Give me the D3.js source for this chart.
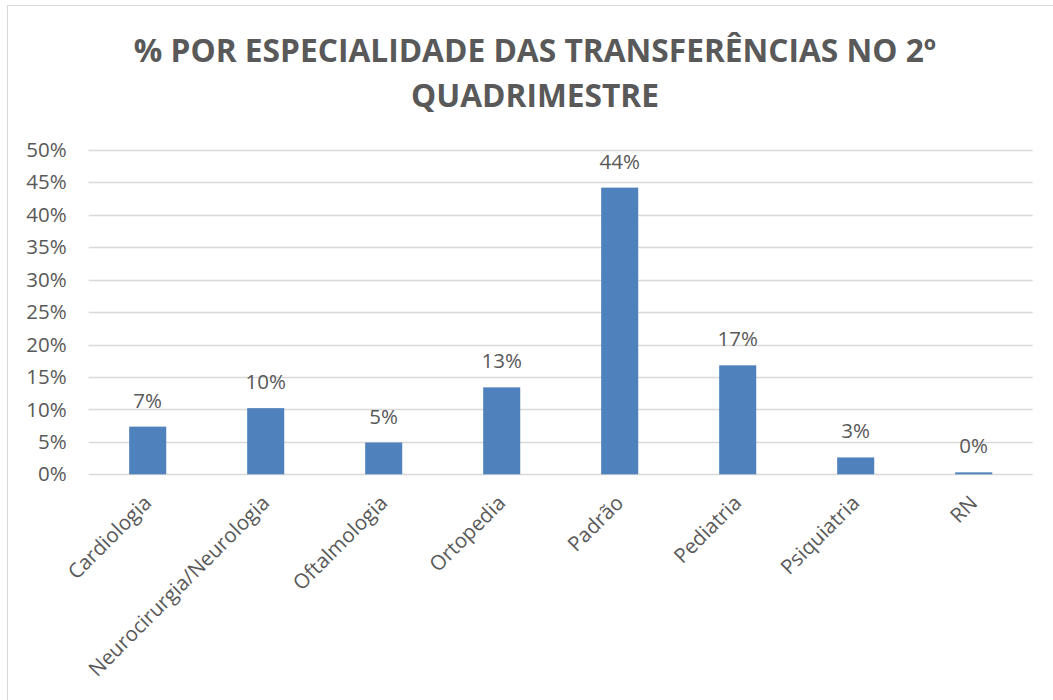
<!DOCTYPE html>
<html>
<head>
<meta charset="utf-8">
<script src="https://cdn.jsdelivr.net/npm/d3@7"></script>
<style>
	body { margin: 0; background: #fff; }
	text { font-family: "Open Sans", "Noto Sans", sans-serif; fill: #595959; }
</style>
</head>
<body>
<svg id="chart" width="1053" height="700"></svg>
<script>
// data
var categories = ["Cardiologia", "Neurocirurgia/Neurologia", "Oftalmologia", "Ortopedia",
	"Padrão", "Pediatria", "Psiquiatria", "RN"];
var values = [7.35, 10.2, 4.9, 13.4, 44.2, 16.8, 2.6, 0.3];
var valueLabels = ["7%", "10%", "5%", "13%", "44%", "17%", "3%", "0%"];
var yTicks = [0, 5, 10, 15, 20, 25, 30, 35, 40, 45, 50];
var titleLines = ["% POR ESPECIALIDADE DAS TRANSFERÊNCIAS NO 2º", "QUADRIMESTRE"];

var svg = d3.select("#chart");

var plotLeft = 88.7,
	plotRight = 1032.7,
	plotTop = 150,
	plotBottom = 474.3,
	fontSize = 20.5;

// outer frame of the chart
svg.append("rect")
	.attr("x", 7.5)
	.attr("y", 5.5)
	.attr("width", 1100)
	.attr("height", 800)
	.attr("fill", "none")
	.attr("stroke", "#d9d9d9")
	.attr("stroke-width", 1);

var x = d3.scaleBand()
	.domain(categories)
	.range([plotLeft, plotRight])
	.paddingInner(0.686)
	.paddingOuter(0.343);

var y = d3.scaleLinear()
	.domain([0, 50])
	.range([plotBottom, plotTop]);

// gridlines
svg.append("g")
	.selectAll("line")
	.data(yTicks)
	.join("line")
	.attr("x1", plotLeft)
	.attr("x2", plotRight)
	.attr("y1", d => Math.round(y(d)) + 0.5)
	.attr("y2", d => Math.round(y(d)) + 0.5)
	.attr("stroke", "#d9d9d9")
	.attr("stroke-width", 1.3);

// y tick labels
var yAxis = svg.append("g")
	.attr("transform", "translate(" + (plotLeft - 22) + ",0)")
	.call(d3.axisLeft(y).tickValues(yTicks).tickSize(0).tickPadding(0).tickFormat(d => d + "%"));
yAxis.select(".domain").remove();
yAxis.selectAll("text")
	.attr("font-size", fontSize)
	.attr("font-family", null)
	.style("fill", "#595959");

// bars
svg.append("g")
	.selectAll("rect")
	.data(values)
	.join("rect")
	.attr("x", (d, i) => x(categories[i]))
	.attr("y", d => y(d))
	.attr("width", x.bandwidth())
	.attr("height", d => y(0) - y(d))
	.attr("fill", "#4f81bd");

// value labels
svg.append("g")
	.selectAll("text")
	.data(values)
	.join("text")
	.attr("x", (d, i) => x(categories[i]) + x.bandwidth() / 2)
	.attr("y", d => y(d) - 19)
	.attr("text-anchor", "middle")
	.attr("font-size", fontSize)
	.text((d, i) => valueLabels[i]);

// category labels, rotated
var xAxis = svg.append("g")
	.attr("transform", "translate(0," + plotBottom + ")")
	.call(d3.axisBottom(x).tickSize(0).tickPadding(0));
xAxis.select(".domain").remove();
xAxis.selectAll("text")
	.attr("font-size", fontSize)
	.attr("font-family", null)
	.style("fill", "#595959")
	.attr("text-anchor", "end")
	.attr("dy", null)
	.attr("y", 0)
	.attr("transform", "translate(5,30) rotate(-45)");

// title, two lines
var title = svg.append("g");
title.selectAll("text")
	.data(titleLines)
	.join("text")
	.attr("x", 535)
	.attr("y", (d, i) => 62 + i * 45)
	.attr("text-anchor", "middle")
	.attr("font-size", 31.7)
	.attr("font-weight", "bold")
	.text(d => d);
</script>
</body>
</html>
